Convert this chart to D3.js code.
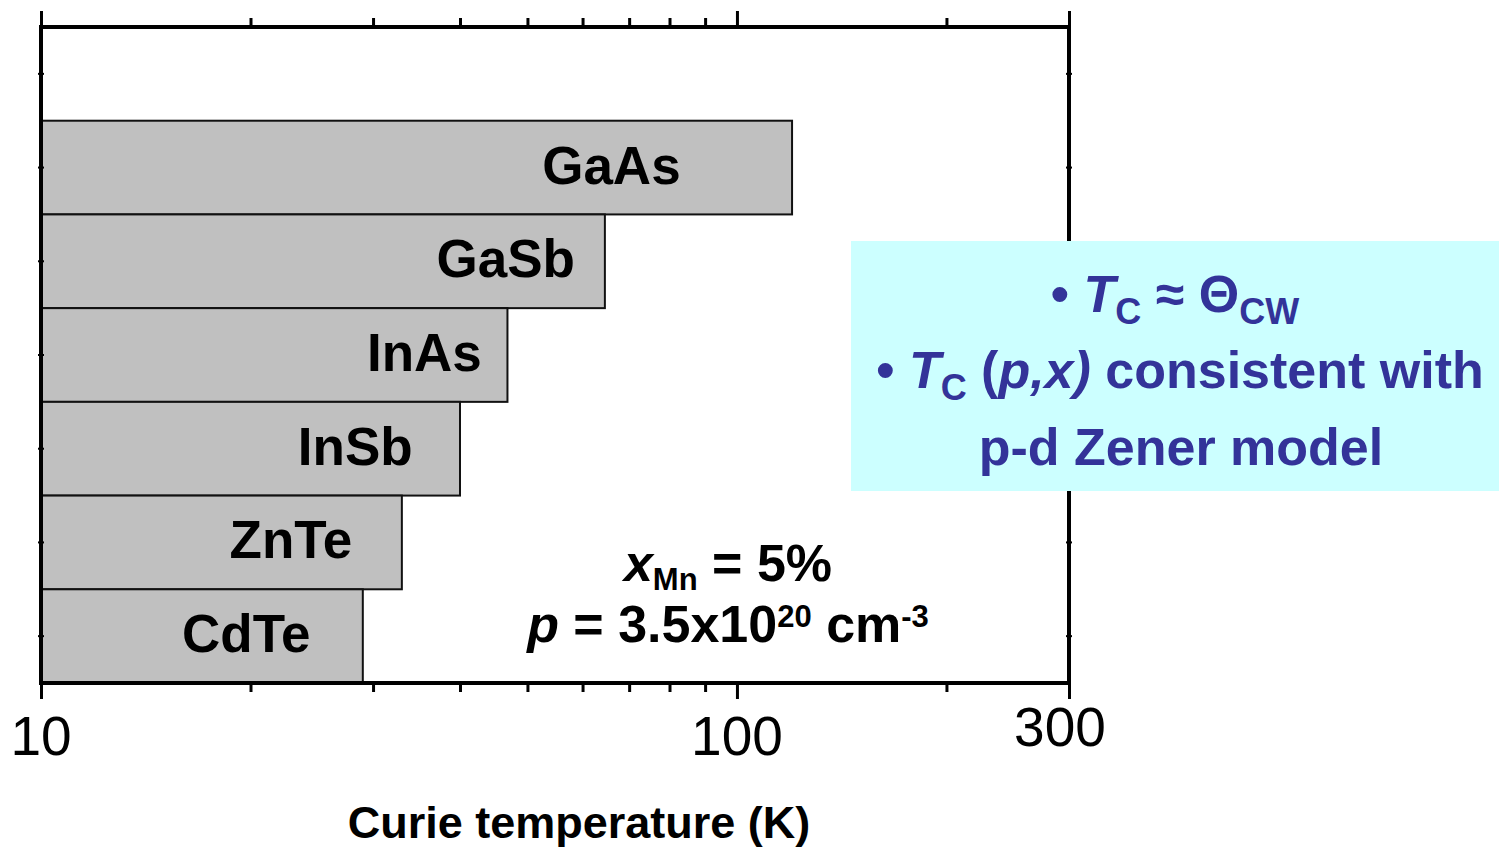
<!DOCTYPE html>
<html>
<head>
<meta charset="utf-8">
<script src="https://cdn.jsdelivr.net/npm/d3@7"></script>
<style>
  body { margin: 0; background: #fff; }
  svg { display: block; font-family: "Liberation Sans", Arial, sans-serif; }
</style>
</head>
<body>
<div id="viz"></div>
<script>
var width = 1499,
    height = 847;

// Curie temperatures (K), top bar first
var materials = ["GaAs", "GaSb", "InAs", "InSb", "ZnTe", "CdTe"];
var curieT = [120, 64.6, 46.8, 40, 33, 29];
// where each label ends, in K
var labelEnd = [83, 58.5, 43, 34.2, 28, 24.4];

var majorTicks = [10, 100, 300];
var minorTicks = [20, 30, 40, 50, 60, 70, 80, 90, 200];

var margin = {left: 41, right: 430, top: 27, bottom: 164};
var plotW = width - margin.left - margin.right,
    plotH = height - margin.top - margin.bottom;

var svg = d3.select("div#viz")
    .append("svg")
    .attr("width", width)
    .attr("height", height);

var x = d3.scaleLog().domain([10, 300]).range([0, plotW]);

// 7 bands, the top one is left empty
var y = d3.scaleBand()
    .domain([""].concat(materials))
    .range([0, plotH])
    .padding(0);

var g = svg.append("g")
    .attr("transform", "translate(" + margin.left + "," + margin.top + ")");

// bars
g.selectAll("rect.bar")
    .data(materials)
    .enter().append("rect")
    .attr("class", "bar")
    .attr("x", 0)
    .attr("y", function(d) { return y(d); })
    .attr("width", function(d, i) { return x(curieT[i]); })
    .attr("height", y.bandwidth())
    .attr("fill", "#c0c0c0")
    .attr("stroke", "#111")
    .attr("stroke-width", 2);

g.selectAll("text.lab")
    .data(materials)
    .enter().append("text")
    .attr("class", "lab")
    .attr("x", function(d, i) { return x(labelEnd[i]); })
    .attr("y", function(d) { return y(d) + y.bandwidth() / 2 + 16; })
    .attr("text-anchor", "end")
    .attr("font-size", 53)
    .attr("font-weight", "bold")
    .text(function(d) { return d; });

// axes: major ticks longer than minor ones, all pointing out
function drawAxis(sel, orient, vals, len) {
    var ax = (orient === "bottom" ? d3.axisBottom(x) : d3.axisTop(x))
        .tickValues(vals)
        .tickSize(len)
        .tickFormat("");
    sel.call(ax);
    sel.select(".domain").remove();
    sel.selectAll(".tick line").attr("stroke", "#000").attr("stroke-width", 3);
}
drawAxis(g.append("g").attr("transform", "translate(0," + plotH + ")"), "bottom", majorTicks, 16);
drawAxis(g.append("g").attr("transform", "translate(0," + plotH + ")"), "bottom", minorTicks, 9);
drawAxis(g.append("g"), "top", majorTicks, 16);
drawAxis(g.append("g"), "top", minorTicks, 9);

// small ticks at band centres on left and right
var bandMid = y.domain().map(function(d) { return y(d) + y.bandwidth() / 2; });
[0, plotW].forEach(function(xx) {
    g.selectAll(null)
        .data(bandMid)
        .enter().append("line")
        .attr("x1", xx - 3).attr("x2", xx + 3)
        .attr("y1", function(d) { return d; })
        .attr("y2", function(d) { return d; })
        .attr("stroke", "#000")
        .attr("stroke-width", 2);
});

// frame
g.append("rect")
    .attr("width", plotW)
    .attr("height", plotH)
    .attr("fill", "none")
    .attr("stroke", "#000")
    .attr("stroke-width", 4);

// tick labels
g.selectAll("text.tl")
    .data(majorTicks)
    .enter().append("text")
    .attr("class", "tl")
    .attr("x", function(d) { return x(d) + (d === 300 ? -9 : 0); })
    .attr("y", function(d) { return plotH + (d === 300 ? 63 : 72); })
    .attr("text-anchor", "middle")
    .attr("font-size", 55)
    .text(function(d) { return d; });

// axis title
svg.append("text")
    .attr("x", 579)
    .attr("y", 838)
    .attr("text-anchor", "middle")
    .attr("font-size", 45)
    .attr("font-weight", "bold")
    .text("Curie temperature (K)");

// conditions annotation
var note = svg.append("text")
    .attr("text-anchor", "middle")
    .attr("font-size", 52)
    .attr("font-weight", "bold");
var l1 = note.append("tspan").attr("x", 728).attr("y", 581);
l1.append("tspan").attr("font-style", "italic").text("x");
l1.append("tspan").attr("font-size", 31).attr("dy", 9).text("Mn");
l1.append("tspan").attr("dy", -9).text(" = 5%");
var l2 = note.append("tspan").attr("x", 728).attr("y", 642);
l2.append("tspan").attr("font-style", "italic").text("p");
l2.append("tspan").text(" = 3.5x10");
l2.append("tspan").attr("font-size", 31).attr("dy", -15).text("20");
l2.append("tspan").attr("dy", 15).text(" cm");
l2.append("tspan").attr("font-size", 31).attr("dy", -15).text("-3");

// cyan box with conclusions
svg.append("rect")
    .attr("x", 851).attr("y", 241)
    .attr("width", 648).attr("height", 250)
    .attr("fill", "#ccffff");

var box = svg.append("text")
    .attr("text-anchor", "middle")
    .attr("font-size", 52)
    .attr("font-weight", "bold")
    .attr("fill", "#333399");
var b1 = box.append("tspan").attr("x", 1175).attr("y", 312);
b1.append("tspan").text("• ");
b1.append("tspan").attr("font-style", "italic").text("T");
b1.append("tspan").attr("font-size", 36).attr("dy", 12).text("C");
b1.append("tspan").attr("dy", -12).text(" ≈ Θ");
b1.append("tspan").attr("font-size", 36).attr("dy", 12).text("CW");
var b2 = box.append("tspan").attr("x", 1180).attr("y", 388);
b2.append("tspan").text("• ");
b2.append("tspan").attr("font-style", "italic").text("T");
b2.append("tspan").attr("font-size", 36).attr("dy", 12).text("C");
b2.append("tspan").attr("dy", -12).text(" (");
b2.append("tspan").attr("font-style", "italic").text("p,x)");
b2.append("tspan").text(" consistent with");
box.append("tspan").attr("x", 1181).attr("y", 465).text("p-d Zener model");
</script>
</body>
</html>
